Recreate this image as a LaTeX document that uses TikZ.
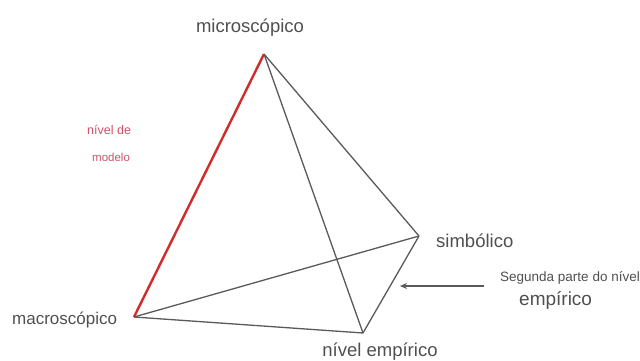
\documentclass[tikz,border=0pt]{standalone}
\usepackage{fontspec}
\setmainfont{Liberation Sans}
\usetikzlibrary{arrows.meta}
\definecolor{txt}{HTML}{505050}
\definecolor{edge}{HTML}{5A5A5A}
\definecolor{redge}{HTML}{D02C2C}
\definecolor{pinktxt}{HTML}{D0506A}
\begin{document}
\begin{tikzpicture}[x=1pt,y=-1pt,
  lbl/.style={text=txt,inner sep=0pt,font=\fontsize{18.5}{20}\selectfont},
  edgeline/.style={draw=edge,line width=1.3pt},
  rededge/.style={draw=redge,line width=2.4pt}]
\useasboundingbox[fill=white] (0,0) rectangle (640,361);
\clip (0,0) rectangle (640,361);
\coordinate (M) at (264,54);
\coordinate (A) at (134,317);
\coordinate (S) at (419,236);
\coordinate (E) at (363,333);
\draw[edgeline] (M) -- (S);
\draw[edgeline] (M) -- (E);
\draw[edgeline] (A) -- (S);
\draw[edgeline] (A) -- (E);
\draw[edgeline] (S) -- (E);
\draw[rededge] (M) -- (A);
\node[lbl] (tm) at (250,28) {microscópico};
\node[lbl,anchor=west,font=\fontsize{17}{19}\selectfont] (ta) at (12,320) {macroscópico};
\node[lbl,anchor=west] (ts) at (436,241) {simbólico};
\node[lbl] (te) at (380,352) {nível empírico};
\node[text=pinktxt,inner sep=0pt,font=\fontsize{12.5}{14}\selectfont,anchor=west] (tn) at (87,130) {nível de};
\node[text=pinktxt,inner sep=0pt,font=\fontsize{11.5}{13}\selectfont,anchor=west] (tmod) at (92,157) {modelo};
\node[text=txt,inner sep=0pt,font=\fontsize{13.5}{15}\selectfont,anchor=west] (tseg) at (500,278) {Segunda parte do nível};
\node[lbl,anchor=west,font=\fontsize{19}{21}\selectfont] (temp) at (519,300) {empírico};
\coordinate (arrs) at (484,286);
\coordinate (arre) at (400,286);
\draw[draw=edge,line width=1.5pt,-{Stealth[length=7pt,width=6pt]}] (arrs) -- (arre);
\end{tikzpicture}
\end{document}
